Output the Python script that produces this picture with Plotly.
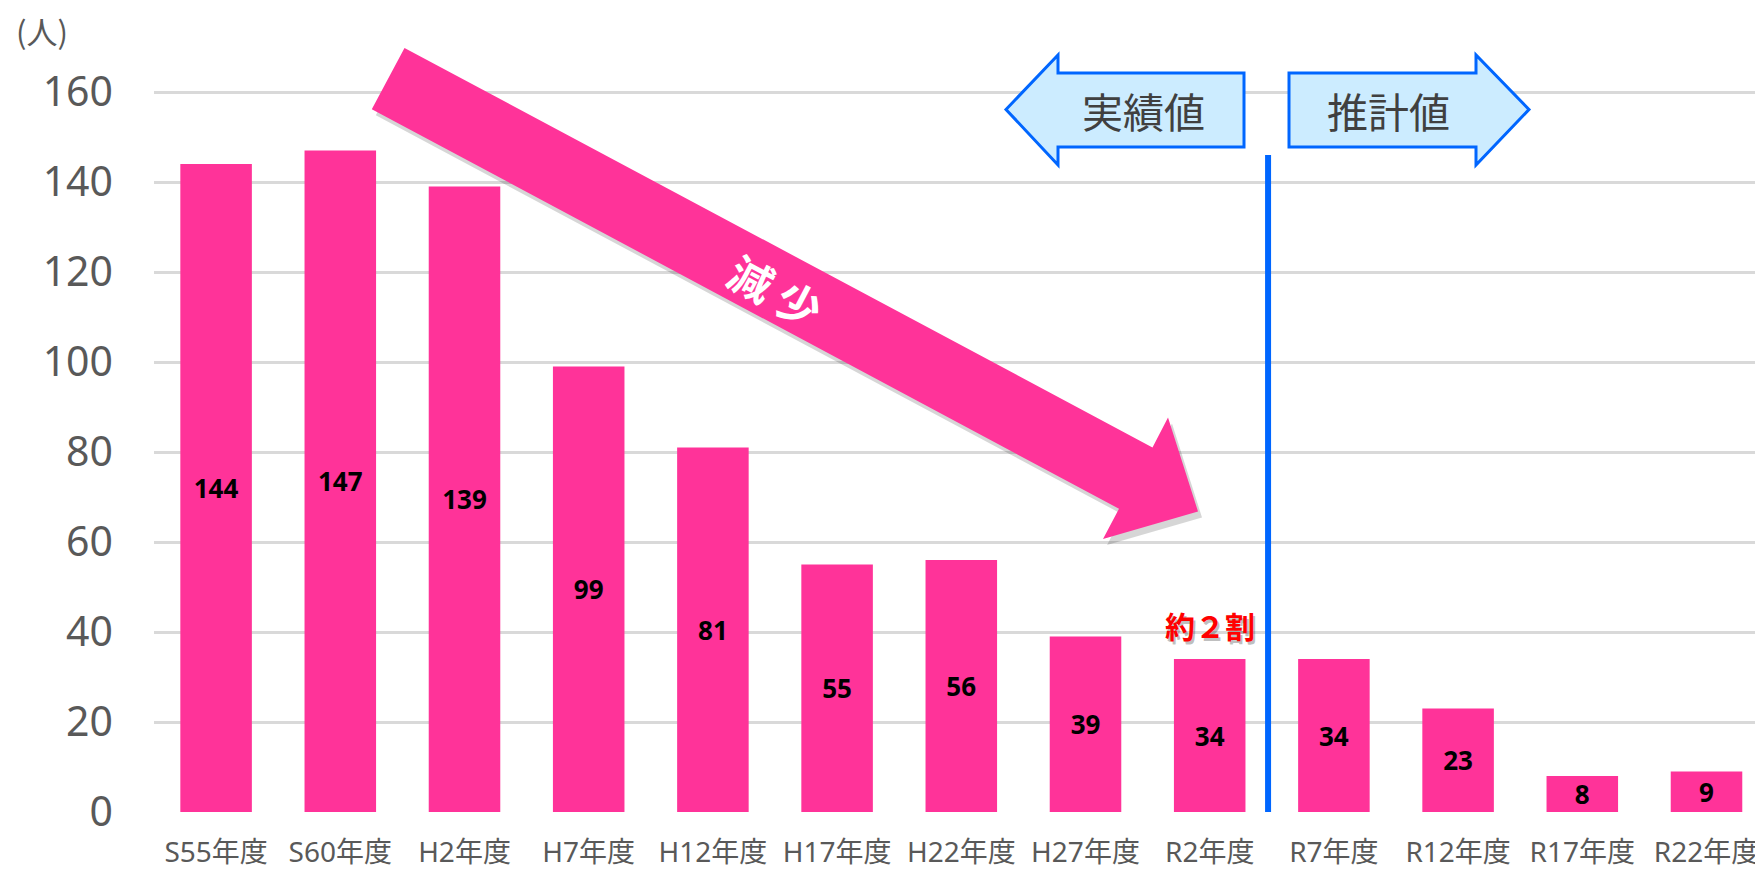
import plotly.graph_objects as go

categories = ["S55年度", "S60年度", "H2年度", "H7年度", "H12年度", "H17年度", "H22年度",
              "H27年度", "R2年度", "R7年度", "R12年度", "R17年度", "R22年度"]
values = [144, 147, 139, 99, 81, 55, 56, 39, 34, 34, 23, 8, 9]
y_ticks = [0, 20, 40, 60, 80, 100, 120, 140, 160]

# page is drawn with an 8px body margin; work in page pixels, offset accordingly
OFF = 8
W, H = 1763 - OFF, 871 - OFF
# page-pixel plot area: x 154..1763, y 8..812
PL, PR, PT, PB = 154, 1763, OFF, 812
ML, MT = PL - OFF, 0
MR = 0
MB = H - (PB - OFF)
PW = W - ML - MR
PH = H - MT - MB

PINK = "#FF3399"
BLUE = "#0066FF"
LBLUE = "#CCECFF"

step = 124.2          # px per category
unit = 4.5            # px per person
x_hi = -0.5 + PW / step
y_hi = PH / unit


def px(x, y):
    # page pixels -> paper coordinates
    return (x - PL) / PW, (PB - y) / PH


def path(points):
    s = ""
    for i, (x, y) in enumerate(points):
        fx, fy = px(x, y)
        s += ("M" if i == 0 else "L") + f"{fx:.5f},{fy:.5f} "
    return s + "Z"


fig = go.Figure()
fig.add_trace(go.Bar(
    x=categories, y=values,
    marker=dict(color=PINK, line=dict(width=0)),
    texttemplate="<b>%{y}</b>",
    textposition="inside", insidetextanchor="middle", textangle=0,
    textfont=dict(color="black", size=26, family="Noto Sans"),
    hoverinfo="skip",
))

pink_arrow = [(404.5, 47.9), (1152.5, 447.4), (1168, 417.4), (1198, 511.4),
              (1103, 539), (1119, 508.7), (371.8, 109.2)]
shadow = [(x + 4, y + 6) for x, y in pink_arrow]
shapes = [
    dict(type="path", xref="paper", yref="paper", path=path(shadow),
         fillcolor="rgba(0,0,0,0.16)", line=dict(width=0), layer="above"),
    dict(type="path", xref="paper", yref="paper", path=path(pink_arrow),
         fillcolor=PINK, line=dict(width=0), layer="above"),
]

left_arrow = [(1006, 109.5), (1058, 55), (1058, 73), (1244, 73), (1244, 147),
              (1058, 147), (1058, 165)]
right_arrow = [(1529, 109.5), (1476, 55), (1476, 73), (1289, 73), (1289, 147),
               (1476, 147), (1476, 165)]
for pts in (left_arrow, right_arrow):
    shapes.append(dict(type="path", xref="paper", yref="paper", path=path(pts),
                       fillcolor=LBLUE, line=dict(color=BLUE, width=3), layer="above"))

shapes.append(dict(type="line", xref="x", yref="y", x0=8.47, x1=8.47, y0=0, y1=146,
                   line=dict(color=BLUE, width=6), layer="above"))

annotations = []


def ann(x, y, text, size, color, bold=False, angle=0, family="Noto Sans CJK JP"):
    fx, fy = px(x, y)
    annotations.append(dict(
        xref="paper", yref="paper", x=fx, y=fy, text=(f"<b>{text}</b>" if bold else text),
        showarrow=False, xanchor="center", yanchor="middle", textangle=angle,
        font=dict(size=size, color=color, family=family)))


ann(42, 30, "(人)", 31, "#595959")
ann(776, 290, "減 少", 44, "white", bold=True, angle=28)
ann(1143, 110, "実績値", 41, "#404040")
ann(1388, 110, "推計値", 41, "#404040")
ann(1212, 628, "約２割", 30, "rgba(0,0,0,0.25)", bold=True)
ann(1210, 625, "約２割", 30, "#FF0000", bold=True)

fig.update_layout(
    width=W, height=H,
    margin=dict(l=ML, r=MR, t=MT, b=MB, autoexpand=False),
    plot_bgcolor="white", paper_bgcolor="white",
    bargap=0.424, showlegend=False,
    shapes=shapes, annotations=annotations,
    uniformtext=dict(minsize=26, mode="show"),
)
fig.update_xaxes(
    type="category", range=[-0.5, x_hi], showgrid=False, zeroline=False,
    showline=False, ticks="", ticklabelstandoff=21, automargin=False,
    tickfont=dict(size=28, color="#595959", family="Noto Sans, Noto Sans CJK JP"),
)
fig.update_yaxes(
    range=[0, y_hi], tickvals=y_ticks, showgrid=True, gridcolor="#D9D9D9", gridwidth=3,
    zeroline=False, showline=False, ticks="", ticklabelstandoff=40, automargin=False,
    tickfont=dict(size=41, color="#595959", family="Noto Sans"),
)

fig.write_html("out.html")
